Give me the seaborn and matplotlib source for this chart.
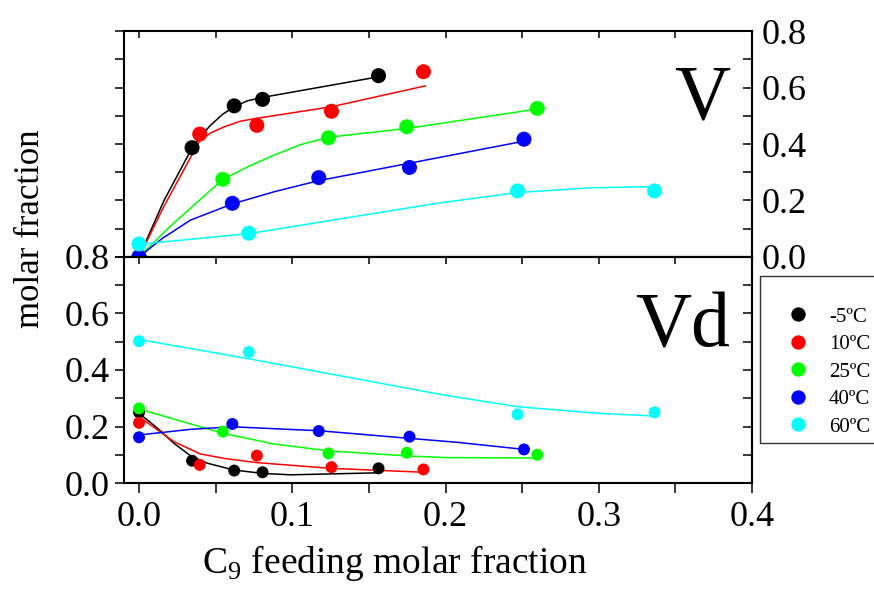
import matplotlib
matplotlib.use("Agg")
import matplotlib.pyplot as plt
from matplotlib.ticker import MultipleLocator, FormatStrFormatter, NullFormatter
import seaborn as sns
import pandas as pd

# series labels and colours
temps = ["-5ºC", "10ºC", "25ºC", "40ºC", "60ºC"]
colors = ["#000000", "#ff0000", "#00ff00", "#0000ff", "#00ffff"]

# C9 feeding molar fraction of the measured points
feed_x = [
    [0.0, 0.0346, 0.0621, 0.0806, 0.1563],
    [0.0, 0.0396, 0.0769, 0.1256, 0.1856],
    [0.0, 0.0547, 0.1236, 0.1747, 0.2599],
    [0.0, 0.0609, 0.1173, 0.1765, 0.2512],
    [0.0, 0.0716, 0.2470, 0.3364],
]
# V panel measured values
v_y = [
    [0.0, 0.387, 0.535, 0.558, 0.642],
    [0.0, 0.435, 0.466, 0.516, 0.656],
    [0.0, 0.275, 0.422, 0.461, 0.526],
    [0.0, 0.190, 0.281, 0.317, 0.417],
    [0.046, 0.084, 0.234, 0.234],
]
# Vd panel measured values
vd_y = [
    [0.250, 0.079, 0.044, 0.038, 0.052],
    [0.213, 0.064, 0.097, 0.056, 0.048],
    [0.264, 0.182, 0.105, 0.107, 0.100],
    [0.162, 0.209, 0.184, 0.164, 0.119],
    [0.502, 0.464, 0.243, 0.250],
]

# fitted curves
v_fit_x = [
    [0.0, 0.0163, 0.0348, 0.0405, 0.0468, 0.0545, 0.0621, 0.0708, 0.0806, 0.1564],
    [0.0, 0.0163, 0.0394, 0.047, 0.0556, 0.0664, 0.0769, 0.1257, 0.187],
    [0.0, 0.02, 0.0547, 0.072, 0.0882, 0.105, 0.1235, 0.1747, 0.2599],
    [0.0, 0.015, 0.0337, 0.061, 0.0882, 0.117, 0.1765, 0.2512],
    [0.0, 0.0719, 0.1967, 0.2469, 0.2948, 0.3361],
]
v_fit_y = [
    [0.0, 0.20, 0.388, 0.43, 0.467, 0.505, 0.532, 0.553, 0.565, 0.638],
    [0.0, 0.18, 0.41, 0.44, 0.461, 0.481, 0.491, 0.532, 0.606],
    [0.0, 0.107, 0.275, 0.322, 0.361, 0.397, 0.424, 0.455, 0.524],
    [0.0, 0.065, 0.131, 0.188, 0.231, 0.270, 0.332, 0.41],
    [0.045, 0.083, 0.192, 0.228, 0.245, 0.249],
]
vd_fit_x = [
    [0.0, 0.012, 0.0229, 0.0337, 0.0446, 0.062, 0.0806, 0.099, 0.1557],
    [0.0, 0.012, 0.0229, 0.0399, 0.0556, 0.0773, 0.125, 0.186],
    [0.0, 0.0547, 0.0882, 0.1235, 0.1747, 0.2, 0.258],
    [0.0, 0.0337, 0.0607, 0.1177, 0.1765, 0.2078, 0.2512],
    [0.0, 0.0714, 0.1993, 0.247, 0.299, 0.3364],
]
vd_fit_y = [
    [0.247, 0.194, 0.140, 0.096, 0.070, 0.046, 0.034, 0.029, 0.036],
    [0.235, 0.188, 0.146, 0.103, 0.087, 0.072, 0.052, 0.038],
    [0.262, 0.176, 0.138, 0.114, 0.096, 0.09, 0.0885],
    [0.17, 0.19, 0.199, 0.185, 0.158, 0.144, 0.119],
    [0.508, 0.44, 0.311, 0.270, 0.247, 0.237],
]


def long_table(xs, ys):
    rows = []
    for t, xx, yy in zip(temps, xs, ys):
        for a, b in zip(xx, yy):
            rows.append((t, a, b))
    return pd.DataFrame(rows, columns=["T", "x", "y"])


def main():
    sns.set_theme(style="white")
    plt.rcParams["font.family"] = ["Liberation Serif", "DejaVu Sans"]
    plt.rcParams["mathtext.fontset"] = "custom"
    plt.rcParams["mathtext.rm"] = "Liberation Serif"
    for key in ["axes.edgecolor", "xtick.color", "ytick.color", "text.color",
                "axes.labelcolor"]:
        plt.rcParams[key] = "black"

    palette = dict(zip(temps, colors))
    pts_v = long_table(feed_x, v_y)
    pts_vd = long_table(feed_x, vd_y)
    fit_v = long_table(v_fit_x, v_fit_y)
    fit_vd = long_table(vd_fit_x, vd_fit_y)

    fig = plt.figure(figsize=(8.74, 5.92), dpi=100)
    ax_v = fig.add_axes([0.1419, 0.5659, 0.7185, 0.3817])
    ax_vd = fig.add_axes([0.1419, 0.1841, 0.7185, 0.3818])

    sns.lineplot(data=fit_v, x="x", y="y", hue="T", palette=palette, sort=False,
                 estimator=None, lw=1.1, legend=False, ax=ax_v)
    sns.scatterplot(data=pts_v, x="x", y="y", hue="T", palette=palette, s=117,
                    edgecolor="none", legend=False, ax=ax_v, zorder=3)
    sns.lineplot(data=fit_vd, x="x", y="y", hue="T", palette=palette, sort=False,
                 estimator=None, lw=1.1, legend=False, ax=ax_vd)
    sns.scatterplot(data=pts_vd, x="x", y="y", hue="T", palette=palette, s=74,
                    edgecolor="none", ax=ax_vd, zorder=3)

    for ax in (ax_v, ax_vd):
        ax.set_xlim(-0.0098, 0.4)
        ax.set_ylim(0, 0.8)
        ax.set_xlabel("")
        ax.set_ylabel("")
        for sp in ax.spines.values():
            sp.set_linewidth(1.5)
        ax.xaxis.set_major_locator(MultipleLocator(0.1))
        ax.xaxis.set_minor_locator(MultipleLocator(0.05))
        ax.yaxis.set_major_locator(MultipleLocator(0.2))
        ax.yaxis.set_minor_locator(MultipleLocator(0.1))
        ax.yaxis.set_major_formatter(FormatStrFormatter("%.1f"))
        ax.xaxis.set_major_formatter(FormatStrFormatter("%.1f"))
        ax.tick_params(axis="y", which="both", direction="out", length=6.5, width=1.1,
                       left=True, right=False, labelsize=26, pad=4)
        right = ax.secondary_yaxis("right")
        right.spines["right"].set_linewidth(1.5)
        right.yaxis.set_major_locator(MultipleLocator(0.2))
        right.yaxis.set_minor_locator(MultipleLocator(0.1))
        right.yaxis.set_major_formatter(FormatStrFormatter("%.1f"))
        right.tick_params(axis="y", which="both", direction="in", length=6.3, width=1.1,
                          labelsize=26, pad=7)
        if ax is ax_vd:
            right.yaxis.set_major_formatter(NullFormatter())

    # top panel: inward ticks on top only, labels on the right
    ax_v.xaxis.set_ticks_position("top")
    ax_v.tick_params(axis="x", which="both", direction="in", length=5, width=1.1,
                     labeltop=False, labelbottom=False)
    ax_v.yaxis.set_major_formatter(NullFormatter())

    # bottom panel: outward ticks below, inward above
    ax_vd.tick_params(axis="x", which="both", direction="out", length=7, width=1.1,
                      bottom=True, top=False, labelsize=26, pad=6)
    top = ax_vd.secondary_xaxis("top")
    top.xaxis.set_major_locator(MultipleLocator(0.1))
    top.xaxis.set_minor_locator(MultipleLocator(0.05))
    top.tick_params(axis="x", which="both", direction="in", length=5, width=1.1,
                    labeltop=False)
    top.spines["top"].set_linewidth(1.5)

    ax_v.text(0.965, 0.615, "V", transform=ax_v.transAxes, ha="right",
              va="baseline", fontsize=56)
    ax_vd.text(0.965, 0.602, "Vd", transform=ax_vd.transAxes, ha="right",
               va="baseline", fontsize=56)

    fig.text(0.452, 1 - 573 / 592, r"C$_\mathregular{9}$ feeding molar fraction",
             ha="center", va="baseline", fontsize=27)
    fig.text(0.035, 0.613, "molar fraction", rotation=90, ha="center", va="center",
             fontsize=25)

    handles, labels = ax_vd.get_legend_handles_labels()
    ax_vd.get_legend().remove()
    leg = fig.legend(handles, labels, loc="upper left",
                     bbox_to_anchor=(760 / 874, 1 - 276 / 592, 0.16, 0), mode="expand",
                     frameon=True, fontsize=15, fancybox=False, edgecolor="black",
                     borderaxespad=0, handlelength=3, handletextpad=0, borderpad=0.3,
                     labelspacing=0.38, markerscale=1.2, title=" ", title_fontsize=13,
                     alignment="left")
    leg.get_frame().set_linewidth(1.0)

    fig.savefig("out.png", dpi=100)


if __name__ == "__main__":
    main()
